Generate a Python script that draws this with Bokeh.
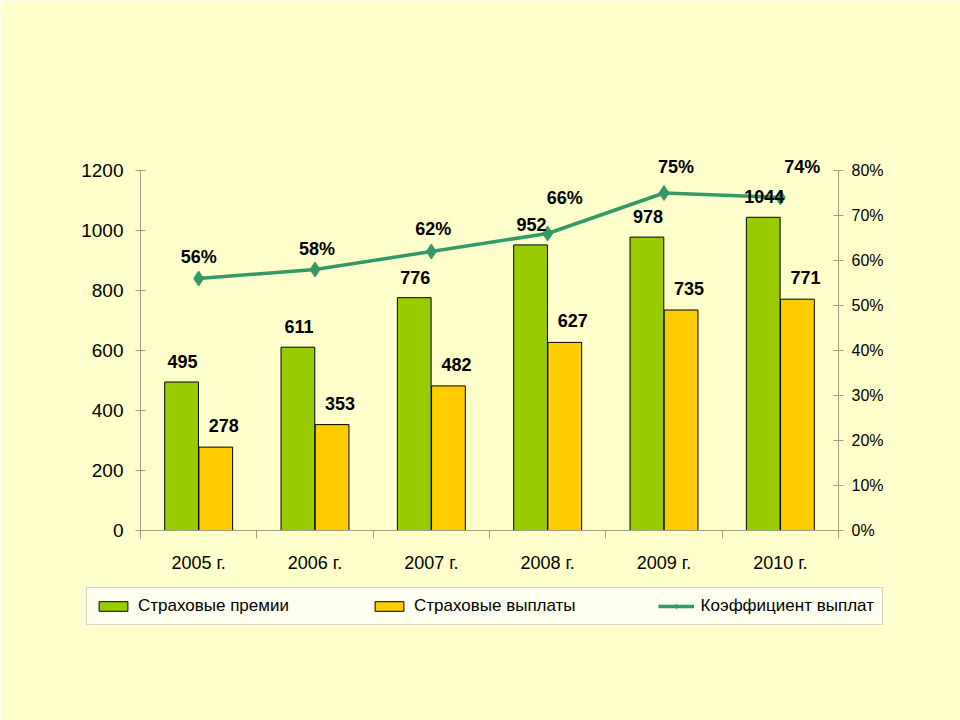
import numpy as np
from bokeh.plotting import figure
from bokeh.models import (ColumnDataSource, Range1d, LinearAxis, FixedTicker,
                          Legend, LegendItem, NumeralTickFormatter, LabelSet)
from bokeh.core.properties import value
from bokeh.embed import file_html
from bokeh.resources import INLINE

years = ["2005 г.", "2006 г.", "2007 г.", "2008 г.", "2009 г.", "2010 г."]
premiums = [495, 611, 776, 952, 978, 1044]
payouts = [278, 353, 482, 627, 735, 771]
ratio = [0.56, 0.58, 0.62, 0.66, 0.75, 0.74]
ratio_labels = ["56%", "58%", "62%", "66%", "75%", "74%"]
left_ticks = [0, 200, 400, 600, 800, 1000, 1200]
right_ticks = [0.0, 0.1, 0.2, 0.3, 0.4, 0.5, 0.6, 0.7, 0.8]

# label placement nudges (pixels) for the percentage labels, as in the original
pct_label_dx = [0, 2, 2, 17, 12, 22]
pct_label_dy = [12, 11, 13, 26, 16, 21]

BG = "#FFFFCC"
GREEN = "#99CC00"
YELLOW = "#FFCC00"
LINE = "#339966"
AXIS = "#A09F80"
FONT = "Liberation Sans"

n = len(years)
x = np.arange(n)
off = 0.147
w = 0.29

# ---- layout (pixels) ----
W, H = 960, 720
AX_L, AX_R, AX_T, AX_B = 140, 838, 170, 530     # axes box
FR_L, FR_R, FR_T, FR_B = 80, 890, 140, 650      # plotting frame (holds legend too)
px_per_cat = (AX_R - AX_L) / n
px_per_unit = (AX_B - AX_T) / left_ticks[-1]
x0 = -0.5 - (AX_L - FR_L) / px_per_cat
x1 = n - 0.5 + (FR_R - AX_R) / px_per_cat
y0 = -(FR_B - AX_B) / px_per_unit
y1 = (AX_B - FR_T) / px_per_unit
k = right_ticks[-1] / left_ticks[-1]

src = ColumnDataSource(dict(
    x=x, xg=x - off, xy=x + off,
    prem=premiums, pay=payouts, ratio=ratio,
    prem_t=[str(v) for v in premiums], pay_t=[str(v) for v in payouts],
    ratio_t=ratio_labels, rdx=pct_label_dx, rdy=pct_label_dy,
))

p = figure(width=W, height=H, output_backend="svg", toolbar_location=None,
           x_range=Range1d(x0, x1), y_range=Range1d(y0, y1),
           min_border_left=FR_L, min_border_right=W - FR_R, min_border_top=FR_T,
           min_border_bottom=H - FR_B)
p.background_fill_color = BG
p.border_fill_color = BG
p.outline_line_color = None
p.grid.grid_line_color = None
p.xaxis.visible = False
p.yaxis.visible = False

p.extra_y_ranges = {"pct": Range1d(y0 * k, y1 * k)}

# x axis: labels at category centres, tick marks between categories
xax = LinearAxis(ticker=FixedTicker(ticks=list(x), minor_ticks=list(np.arange(-0.5, n, 1.0))),
                 fixed_location=0, bounds=(-0.5, n - 0.5))
xax.major_label_overrides = {int(i): years[i] for i in x}
xax.major_tick_line_color = None
xax.minor_tick_line_color = AXIS
xax.minor_tick_in = 0
xax.minor_tick_out = 8
xax.axis_line_color = AXIS
xax.major_label_text_font = FONT
xax.major_label_text_font_size = "18px"
xax.major_label_text_color = "black"
xax.major_label_standoff = 14
p.add_layout(xax, "below")

# left axis
yax = LinearAxis(ticker=FixedTicker(ticks=left_ticks), bounds=(0, left_ticks[-1]),
                 fixed_location=-0.5)
yax.axis_line_color = AXIS
yax.major_tick_line_color = AXIS
yax.major_tick_in = 5
yax.major_tick_out = 5
yax.minor_tick_line_color = None
yax.major_label_text_font = FONT
yax.major_label_text_font_size = "19px"
yax.major_label_text_color = "black"
yax.major_label_standoff = 12
p.add_layout(yax, "left")

# right axis
rax = LinearAxis(y_range_name="pct", ticker=FixedTicker(ticks=right_ticks),
                 bounds=(0, right_ticks[-1]), fixed_location=n - 0.5,
                 formatter=NumeralTickFormatter(format="0%"))
rax.axis_line_color = AXIS
rax.major_tick_line_color = AXIS
rax.major_tick_in = 5
rax.major_tick_out = 5
rax.minor_tick_line_color = None
rax.major_label_text_font = FONT
rax.major_label_text_font_size = "16px"
rax.major_label_text_color = "black"
rax.major_label_standoff = 8
p.add_layout(rax, "right")

g = p.vbar(x="xg", top="prem", width=w, source=src, fill_color=GREEN, line_color="black", line_width=1)
yb = p.vbar(x="xy", top="pay", width=w, source=src, fill_color=YELLOW, line_color="black", line_width=1)

ln = p.line(x="x", y="ratio", source=src, y_range_name="pct", line_color=LINE, line_width=3.5)
mk = p.scatter(x="x", y="ratio", source=src, y_range_name="pct", marker="diamond",
               size=15, fill_color=LINE, line_color=LINE)

common = dict(source=src, text_font=value(FONT), text_font_style="bold", text_font_size="18px",
              text_align="center", text_baseline="bottom", text_color="black")
p.add_layout(LabelSet(x="xg", y="prem", text="prem_t", y_offset=14, x_offset=1, **common))
p.add_layout(LabelSet(x="xy", y="pay", text="pay_t", y_offset=15, x_offset=8, **common))
p.add_layout(LabelSet(x="x", y="ratio", text="ratio_t", y_range_name="pct",
                      x_offset="rdx", y_offset="rdy", **common))

legend = Legend(items=[
    LegendItem(label="Страховые премии", renderers=[g]),
    LegendItem(label="Страховые выплаты", renderers=[yb]),
    LegendItem(label="Коэффициент выплат", renderers=[ln, mk]),
], orientation="horizontal", location=(86 - FR_L, FR_B - 625))
legend.background_fill_color = "#FFFFF0"
legend.background_fill_alpha = 1
legend.border_line_color = "#B0B0A0"
legend.label_text_font = FONT
legend.label_text_font_size = "17px"
legend.label_text_color = "black"
legend.glyph_width = 36
legend.glyph_height = 12
legend.label_standoff = 7
legend.spacing = 82
legend.padding = 8
legend.margin = 0
p.add_layout(legend, "center")

html = file_html(p, INLINE)
html = html.replace("<body>", '<body style="background:%s">' % BG, 1)
open("out.html", "w").write(html)
